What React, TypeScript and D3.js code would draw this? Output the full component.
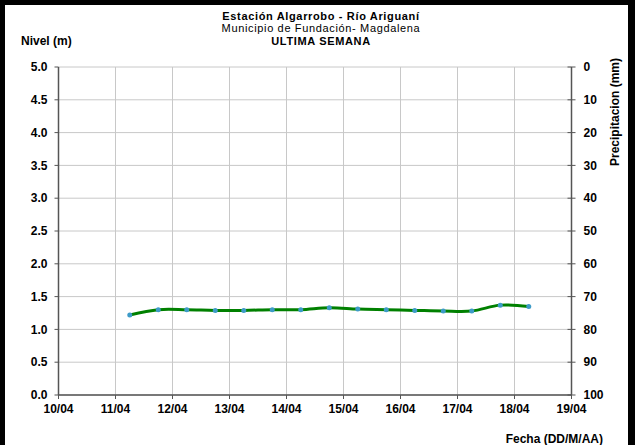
import React from "react";
import * as d3 from "d3";

const times = [
  "2023-04-11T06:00", "2023-04-11T18:00", "2023-04-12T06:00", "2023-04-12T18:00",
  "2023-04-13T06:00", "2023-04-13T18:00", "2023-04-14T06:00", "2023-04-14T18:00",
  "2023-04-15T06:00", "2023-04-15T18:00", "2023-04-16T06:00", "2023-04-16T18:00",
  "2023-04-17T06:00", "2023-04-17T18:00", "2023-04-18T06:00",
];
const nivel = [1.22, 1.30, 1.30, 1.29, 1.29, 1.30, 1.30, 1.33, 1.31, 1.30, 1.29, 1.28, 1.28, 1.37, 1.35];
const levelTicks = [0, 0.5, 1, 1.5, 2, 2.5, 3, 3.5, 4, 4.5, 5];
const precipTicks = [0, 10, 20, 30, 40, 50, 60, 70, 80, 90, 100];
const dateStart = "2023-04-10T00:00";
const dateEnd = "2023-04-19T00:00";
const titleLines = ["Estación Algarrobo - Río Ariguaní", "Municipio de Fundación- Magdalena", "ULTIMA SEMANA"];

const W = 635, H = 445;
const L = 58.5, R = 571.5, T = 67, B = 395;
const FONT = "'Liberation Sans', Arial, sans-serif";
const FS = 12;
const TFS = 11;

export default function App() {
  const parse = d3.timeParse("%Y-%m-%dT%H:%M");
  const x = d3.scaleTime().domain([parse(dateStart)!, parse(dateEnd)!]).range([L, R]);
  const y = d3.scaleLinear().domain([0, 5]).range([B, T]);
  const y2 = d3.scaleLinear().domain([0, 100]).range([T, B]);
  const dayTicks = x.ticks(d3.timeDay.every(1)!);
  const pts = times.map((t, i) => ({ d: parse(t)!, v: nivel[i] }));
  const line = d3.line<{ d: Date; v: number }>()
    .x((p) => x(p.d))
    .y((p) => y(p.v))
    .curve(d3.curveCatmullRom.alpha(0.5));
  const fmt = d3.timeFormat("%d/%m");
  return (
    <svg width={W} height={H} style={{ position: "absolute", left: 0, top: 0 }} fontFamily={FONT}>
      <rect x={0} y={0} width={W} height={H} fill="#000" />
      <rect x={5} y={5} width={623} height={440} fill="#fff" />
      {/* grid */}
      {levelTicks.map((t) => (
        <line key={"h" + t} x1={L} x2={R} y1={y(t)} y2={y(t)} stroke="#c8c8c8" strokeWidth={1} />
      ))}
      {dayTicks.map((d, i) => (
        <line key={"v" + i} x1={x(d)} x2={x(d)} y1={T} y2={B} stroke="#c8c8c8" strokeWidth={1} />
      ))}
      {/* axes */}
      <line x1={L} x2={L} y1={T} y2={B} stroke="#555" strokeWidth={1.5} />
      <line x1={R} x2={R} y1={T} y2={B} stroke="#555" strokeWidth={1.5} />
      <line x1={L} x2={R} y1={B} y2={B} stroke="#555" strokeWidth={1.5} />
      {levelTicks.map((t) => (
        <g key={"lt" + t}>
          <line x1={L - 4} x2={L} y1={y(t)} y2={y(t)} stroke="#555" strokeWidth={1} />
          <text x={L - 11} y={y(t)} dy="0.35em" textAnchor="end" fontSize={FS} fontWeight="bold">
            {t.toFixed(1)}
          </text>
        </g>
      ))}
      {precipTicks.map((t) => (
        <g key={"rt" + t}>
          <line x1={R - 4} x2={R + 4} y1={y2(t)} y2={y2(t)} stroke="#555" strokeWidth={1} />
          <text x={R + 12} y={y2(t)} dy="0.35em" textAnchor="start" fontSize={FS} fontWeight="bold">
            {t}
          </text>
        </g>
      ))}
      {dayTicks.map((d, i) => (
        <g key={"xt" + i}>
          <line x1={x(d)} x2={x(d)} y1={B} y2={B + 4} stroke="#555" strokeWidth={1} />
          <text x={x(d)} y={B + 18} textAnchor="middle" fontSize={FS} fontWeight="bold">
            {fmt(d)}
          </text>
        </g>
      ))}
      {/* series */}
      <path d={line(pts) || ""} fill="none" stroke="#008000" strokeWidth={3} />
      {pts.map((p, i) => (
        <circle key={"c" + i} cx={x(p.d)} cy={y(p.v)} r={2.5} fill="#3d9bc8" />
      ))}
      {/* titles */}
      <text x={321} y={19.5} textAnchor="middle" fontSize={TFS} fontWeight="bold" letterSpacing={0.65}>{titleLines[0]}</text>
      <text x={321} y={32} textAnchor="middle" fontSize={TFS} letterSpacing={0.65}>{titleLines[1]}</text>
      <text x={321} y={44.5} textAnchor="middle" fontSize={TFS} fontWeight="bold" letterSpacing={0.65}>{titleLines[2]}</text>
      <text x={21} y={45} fontSize={FS} fontWeight="bold">Nivel (m)</text>
      <text transform={`translate(619,112) rotate(-90)`} textAnchor="middle" fontSize={FS} fontWeight="bold">
        Precipitacion (mm)
      </text>
      <text x={603} y={443} textAnchor="end" fontSize={FS} fontWeight="bold">Fecha (DD/M/AA)</text>
    </svg>
  );
}
